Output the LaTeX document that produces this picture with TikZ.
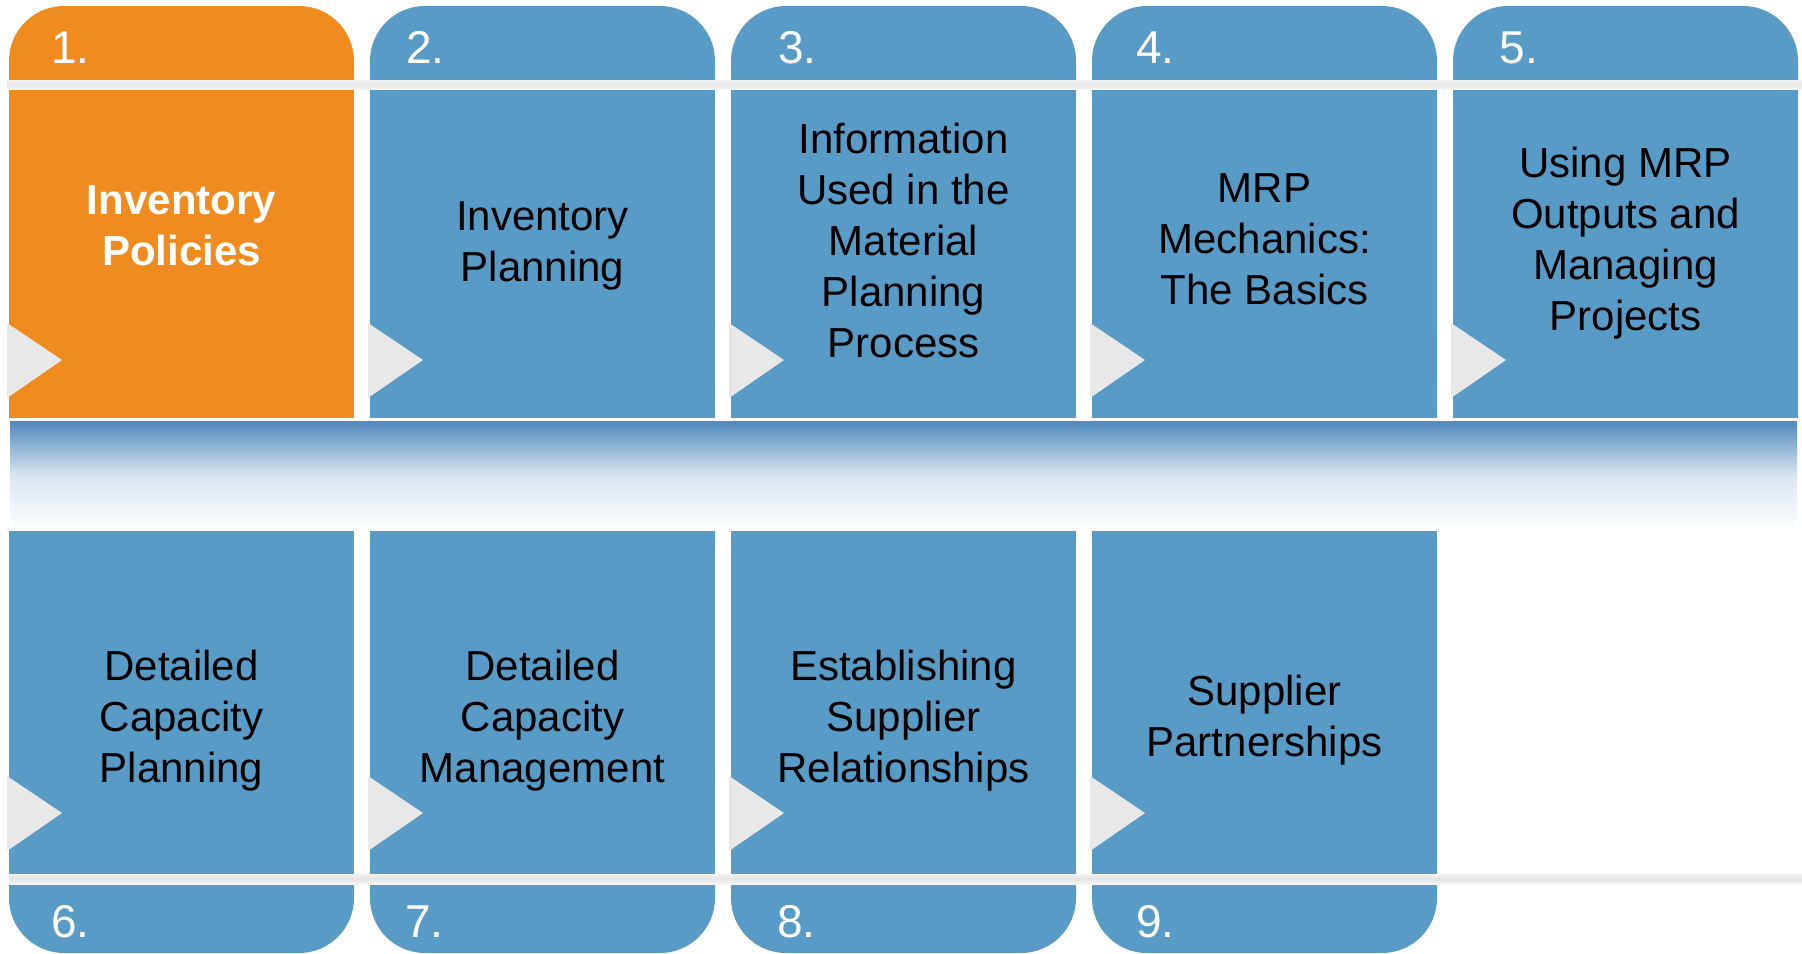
\documentclass[tikz,border=0pt]{standalone}
\usepackage{fontspec}
\setmainfont{Liberation Sans}
\usepackage{xcolor}
\usepackage{tikz}

\definecolor{tabblue}{RGB}{88,155,199}
\definecolor{taborange}{RGB}{240,140,31}
\definecolor{arrowgrey}{RGB}{232,232,232}
\definecolor{linetop}{RGB}{241,241,241}
\definecolor{linemid}{RGB}{229,229,229}
\definecolor{linebot}{RGB}{246,246,246}
\definecolor{fadeblue}{RGB}{80,137,189}

\begin{document}
\begin{tikzpicture}[x=0.5pt, y=-0.5pt,
    tabshape/.style={rounded corners=27.5pt},
    sepline/.style={top color=linetop, bottom color=linebot, middle color=linemid},
    num/.style={text=white, font=\fontsize{23}{27}\selectfont, inner sep=0pt, anchor=base west},
    boxtext/.style={align=center, font=\fontsize{21}{25.5}\selectfont, inner sep=0pt, anchor=north}]
    \useasboundingbox (0,0) rectangle (1802,953);

    % Fade bar between the rows
    \fill[top color=fadeblue, bottom color=white, middle color=fadeblue!22!white] (10,421) rectangle (1797,530);

    % Top row: tabs and bodies
    \fill[taborange, tabshape] (9,80) -- (9,6) -- (354,6) -- (354,80);
    \fill[taborange] (9,89) rectangle (354,418);
    \fill[tabblue, tabshape] (370,80) -- (370,6) -- (715,6) -- (715,80);
    \fill[tabblue] (370,89) rectangle (715,418);
    \fill[tabblue, tabshape] (731,80) -- (731,6) -- (1076,6) -- (1076,80);
    \fill[tabblue] (731,89) rectangle (1076,418);
    \fill[tabblue, tabshape] (1092,80) -- (1092,6) -- (1437,6) -- (1437,80);
    \fill[tabblue] (1092,89) rectangle (1437,418);
    \fill[tabblue, tabshape] (1453,80) -- (1453,6) -- (1798,6) -- (1798,80);
    \fill[tabblue] (1453,89) rectangle (1798,418);

    % Bottom row: bodies and tabs
    \fill[tabblue] (9,531) rectangle (354,874);
    \fill[tabblue, tabshape] (9,884) -- (9,953) -- (354,953) -- (354,884);
    \fill[tabblue] (370,531) rectangle (715,874);
    \fill[tabblue, tabshape] (370,884) -- (370,953) -- (715,953) -- (715,884);
    \fill[tabblue] (731,531) rectangle (1076,874);
    \fill[tabblue, tabshape] (731,884) -- (731,953) -- (1076,953) -- (1076,884);
    \fill[tabblue] (1092,531) rectangle (1437,874);
    \fill[tabblue, tabshape] (1092,884) -- (1092,953) -- (1437,953) -- (1437,884);

    % Separator lines
    \fill[sepline] (7,80) rectangle (1802,89);
    \fill[sepline] (9,874) rectangle (1802,884);

    % Arrow marks
    \fill[arrowgrey] (7,323) -- (62,360) -- (7,398) -- cycle;
    \fill[arrowgrey] (368,323) -- (423,360) -- (368,398) -- cycle;
    \fill[arrowgrey] (729,323) -- (784,360) -- (729,398) -- cycle;
    \fill[arrowgrey] (1090,323) -- (1145,360) -- (1090,398) -- cycle;
    \fill[arrowgrey] (1451,323) -- (1506,360) -- (1451,398) -- cycle;
    \fill[arrowgrey] (7,776) -- (62,813) -- (7,851) -- cycle;
    \fill[arrowgrey] (368,776) -- (423,813) -- (368,851) -- cycle;
    \fill[arrowgrey] (729,776) -- (784,813) -- (729,851) -- cycle;
    \fill[arrowgrey] (1090,776) -- (1145,813) -- (1090,851) -- cycle;

    % Numbers
    \node[num] (n1) at (51,63) {1.};
    \node[num] (n2) at (406,63) {2.};
    \node[num] (n3) at (778,63) {3.};
    \node[num] (n4) at (1136,63) {4.};
    \node[num] (n5) at (1499,63) {5.};
    \node[num] (n6) at (51,937) {6.};
    \node[num] (n7) at (405,937) {7.};
    \node[num] (n8) at (777,937) {8.};
    \node[num] (n9) at (1136,937) {9.};

    % Titles
    \node[boxtext, text=white, font=\fontsize{21}{25.5}\selectfont\bfseries] (pol) at (181.5,185) {Inventory\\Policies};
    \node[boxtext] (plan) at (542.5,201) {Inventory\\Planning};
    \node[boxtext] (info) at (903.5,123) {Information\\Used in the\\Material\\Planning\\Process};
    \node[boxtext] (mech) at (1264.5,173) {MRP\\Mechanics:\\The Basics};
    \node[boxtext] (outp) at (1625.5,147) {Using MRP\\Outputs and\\Managing\\Projects};
    \node[boxtext] (dcplan) at (181.5,650) {Detailed\\Capacity\\Planning};
    \node[boxtext] (dcman) at (542.5,650) {Detailed\\Capacity\\Management};
    \node[boxtext] (rel) at (903.5,650) {Establishing\\Supplier\\Relationships};
    \node[boxtext] (part) at (1264.5,675) {Supplier\\Partnerships};
\end{tikzpicture}
\end{document}
